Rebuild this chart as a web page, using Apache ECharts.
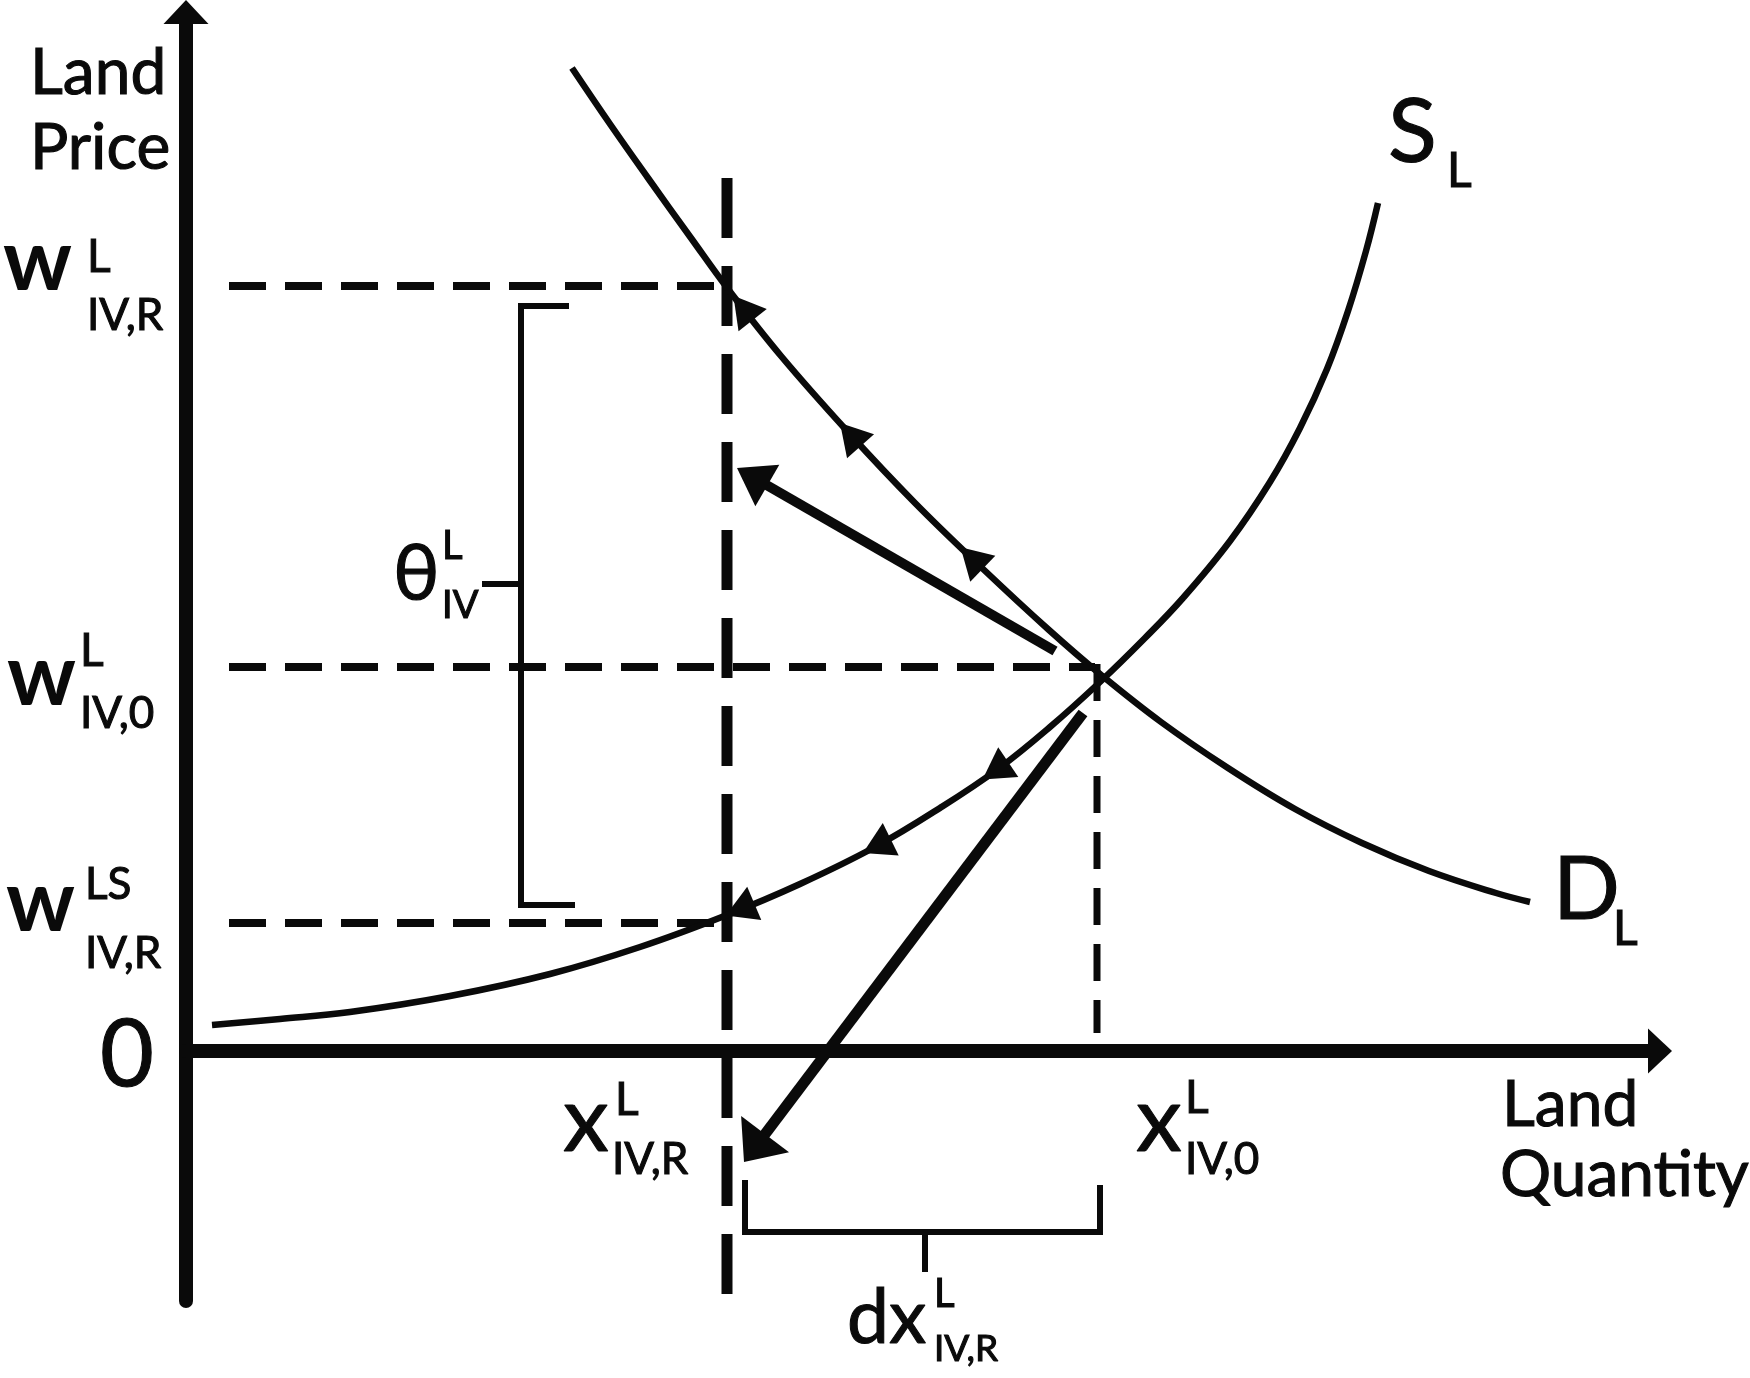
<!DOCTYPE html>
<html><head><meta charset="utf-8">
<script src="https://cdn.jsdelivr.net/npm/echarts@6.0.0/dist/echarts.min.js"></script>
<style>html,body{margin:0;padding:0;background:#fff}#c{width:1750px;height:1378px}</style>
</head><body><div id="c"></div>
<script>
// ---------- data (diagram units, origin O) ----------
const demandX = [38.6, 42.4, 46.2, 50.5, 54.2, 59.5, 66.2, 72.9, 79.6, 86.3, 91.4, 97.5, 104.2, 110.9, 117.6, 124.3, 131.0, 134.4];
const demandY = [98.3, 92.7, 87.3, 81.3, 76.2, 69.5, 61.9, 54.8, 48.3, 42.1, 37.7, 32.9, 28.3, 24.2, 20.8, 18.0, 15.8, 14.9];
const supplyX = [2.6, 9.4, 16.4, 26.4, 36.4, 45.4, 54.1, 61.4, 68.9, 75.4, 81.2, 86.4, 91.4, 95.9, 99.7, 104.4, 108.4, 111.4, 114.1, 116.2, 118.0, 119.2];
const supplyY = [2.6, 3.2, 3.9, 5.5, 7.7, 10.4, 13.6, 16.7, 20.4, 24.3, 28.2, 32.4, 36.9, 41.3, 45.3, 51.0, 56.9, 62.3, 68.2, 74.0, 80.0, 84.8];
const priceLevels = [76.5, 38.4, 12.8];      // w^L_IV,R , w^L_IV,0 , w^LS_IV,R
const quantityLevels = [54.1, 91.1];         // x^L_IV,R , x^L_IV,0
const guideStartX = 4.3;
const xRLineRange = [87.3, -25.7];
const x0LineRange = [38.7, 1.8];
const demandArrowX = [55.3, 66.0, 78.1];
const supplyArrowX = [80.4, 68.5, 54.8];
const shiftArrowFrom = [[86.9, 40.0], [89.7, 33.8]];
const shiftArrowTo = [[55.1, 58.3], [55.8, -11.1]];
const thetaBracket = [[38.3, 74.5], [33.5, 74.5], [33.5, 14.6], [38.9, 14.6]];
const thetaTick = [[29.6, 46.7], [33.5, 46.7]];
const dxBracket = [[55.9, -12.9], [55.9, -18.1], [91.4, -18.1], [91.4, -13.4]];
const dxTick = [[73.9, -18.1], [73.9, -22.1]];
// text: [text, x, y, fontSize, weight]
const textMarks = [
  ['Land', -15.6, 97.78, 64], ['Price', -15.6, 90.28, 64],
  ['w', -18.3, 78.9, 86, 'bold'], ['L', -9.9, 79.38, 46], ['IV,R', -9.9, 73.5, 44],
  ['w', -17.9, 37.33, 86, 'bold'], ['L', -10.6, 39.99, 46], ['IV,0', -10.6, 33.7, 44],
  ['w', -18.0, 14.8, 86, 'bold'], ['LS', -10.1, 16.6, 44], ['IV,R', -10.1, 9.7, 44],
  ['0', -8.6, -0.54, 93],
  ['x', 37.7, -7.04, 92], ['L', 42.9, -4.92, 46], ['IV,R', 42.6, -10.9, 44],
  ['x', 95.0, -7.04, 92], ['L', 99.9, -4.72, 46], ['IV,0', 99.9, -10.9, 44],
  ['dx', 66.1, -26.8, 75], ['L', 74.8, -24.35, 40], ['IV,R', 74.8, -29.8, 37],
  ['θ', 20.7, 47.62, 78], ['L', 25.6, 50.45, 40], ['IV', 25.6, 44.57, 38],
  ['S', 120.2, 91.78, 90], ['L', 126.1, 87.96, 48],
  ['D', 136.7, 16.0, 88], ['L', 142.7, 12.16, 48],
  ['Land', 131.6, -5.42, 64], ['Quantity', 131.4, -12.42, 64]
];

// ---------- rendering ----------
const C = '#0a0a0a';
const FONT = 'Lato, "Noto Sans", sans-serif';
const zip = (xs, ys) => xs.map((x, i) => [x, ys[i]]);

function seg(points, width, dash, z) {
  return {type: 'line', data: points, showSymbol: false, symbol: 'none', silent: true, clip: false,
    z: z || 2, animation: false, smooth: false,
    lineStyle: {color: C, width: width, type: dash || 'solid', cap: 'butt', join: 'miter'}};
}
function onCurve(xs, ys, x) {
  for (let i = 0; i < xs.length - 1; i++) {
    if (x >= xs[i] && x <= xs[i + 1]) {
      const t = (x - xs[i]) / (xs[i + 1] - xs[i]);
      return [x, ys[i] + t * (ys[i + 1] - ys[i]), xs[i] - xs[i + 1], ys[i] - ys[i + 1]];
    }
  }
}
const curveArrows = demandArrowX.map(x => onCurve(demandX, demandY, x))
  .concat(supplyArrowX.map(x => onCurve(supplyX, supplyY, x)));
const shiftArrows = shiftArrowFrom.map((s, i) => [s[0], s[1], shiftArrowTo[i][0], shiftArrowTo[i][1]]);

function headPts(tip, u, L, H) {
  const bx = tip[0] - u[0] * L, by = tip[1] - u[1] * L;
  const nx = -u[1], ny = u[0];
  return [[tip[0], tip[1]], [bx + nx * H, by + ny * H], [bx - nx * H, by - ny * H]];
}
function unit(a, b) { const dx = b[0] - a[0], dy = b[1] - a[1], n = Math.hypot(dx, dy); return [dx / n, dy / n]; }

const series = [
  seg([[guideStartX, priceLevels[0]], [quantityLevels[0] - 0.5, priceLevels[0]]], 8, [37, 19]),
  seg([[guideStartX, priceLevels[1]], [quantityLevels[1] - 0.2, priceLevels[1]]], 8, [37, 19]),
  seg([[guideStartX, priceLevels[2]], [quantityLevels[0] - 0.7, priceLevels[2]]], 8, [37, 19]),
  seg([[quantityLevels[0], xRLineRange[0]], [quantityLevels[0], xRLineRange[1]]], 11, [60, 28]),
  seg([[quantityLevels[1], x0LineRange[0]], [quantityLevels[1], x0LineRange[1]]], 7, [37, 19]),
  seg(thetaBracket, 6), seg(thetaTick, 6), seg(dxBracket, 6), seg(dxTick, 6),
  Object.assign(seg(zip(demandX, demandY), 6.5, 'solid', 3), {smooth: 0.4}),
  Object.assign(seg(zip(supplyX, supplyY), 6.5, 'solid', 3), {smooth: 0.4}),
  {type: 'custom', data: curveArrows, z: 4, silent: true, animation: false, clip: false,
   encode: {x: 0, y: 1},
   renderItem: function (params, api) {
     const p = api.coord([api.value(0), api.value(1)]);
     const q = api.coord([api.value(0) + api.value(2), api.value(1) + api.value(3)]);
     const u = unit(p, q);
     const tip = [p[0] + u[0] * 9, p[1] + u[1] * 9];
     return {type: 'polygon', shape: {points: headPts(tip, u, 31, 18)}, style: {fill: C}};
   }},
  {type: 'custom', data: shiftArrows, z: 4, silent: true, animation: false, clip: false,
   encode: {x: [0, 2], y: [1, 3]},
   renderItem: function (params, api) {
     const s = api.coord([api.value(0), api.value(1)]);
     const e = api.coord([api.value(2), api.value(3)]);
     const u = unit(s, e);
     const L = 35, H = params.dataIndex === 0 ? 24 : 30;
     const w = params.dataIndex === 0 ? 10 : 11;
     const b = [e[0] - u[0] * (L - 4), e[1] - u[1] * (L - 4)];
     return {type: 'group', children: [
       {type: 'line', shape: {x1: s[0], y1: s[1], x2: b[0], y2: b[1]}, style: {stroke: C, lineWidth: w, lineCap: 'butt'}},
       {type: 'polygon', shape: {points: headPts(e, u, L, H)}, style: {fill: C}}
     ]};
   }},
  {type: 'scatter', symbolSize: 1, clip: false, silent: true, z: 6, animation: false,
   itemStyle: {color: 'rgba(0,0,0,0)'},
   data: textMarks.map(t => ({value: [t[1], t[2]], label: {show: true, position: 'inside', formatter: t[0],
     align: 'left', verticalAlign: 'middle', fontSize: t[3], fontWeight: t[4] || 'normal',
     fontFamily: FONT, color: C, opacity: 1,
     textBorderColor: C, textBorderWidth: t[4] ? 0 : 1.1}}))}
];

const axisCommon = {
  type: 'value', axisTick: {show: false}, axisLabel: {show: false}, splitLine: {show: false},
  axisLine: {show: true, onZero: true, symbol: ['none', 'triangle'], symbolSize: [45, 24],
    lineStyle: {color: C, width: 14}}
};
const chart = echarts.init(document.getElementById('c'), null, {renderer: 'canvas', width: 1750, height: 1378});
chart.setOption({
  backgroundColor: '#ffffff',
  animation: false,
  grid: {left: 186, right: 90, top: 12, bottom: 77, containLabel: false},
  xAxis: Object.assign({}, axisCommon, {min: 0, max: 147.4}),
  yAxis: Object.assign({}, axisCommon, {min: -25, max: 103.9}),
  tooltip: {show: false},
  series: series
});
</script></body></html>
